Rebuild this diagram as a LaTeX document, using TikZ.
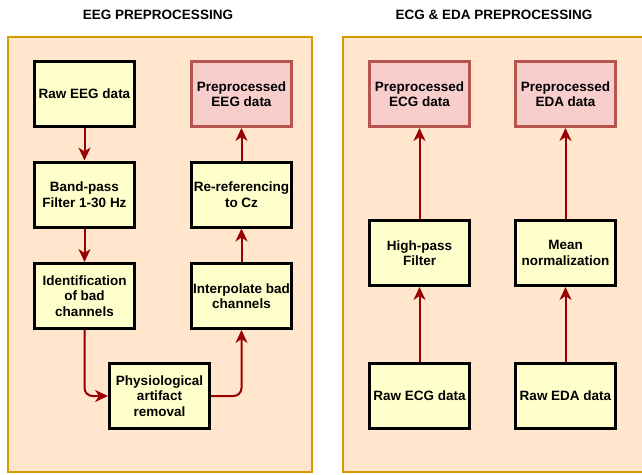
\documentclass[tikz,border=0pt]{standalone}
\usepackage{fontspec}
\setmainfont{Liberation Sans}
\usetikzlibrary{arrows.meta}
\definecolor{panelfill}{HTML}{FFE6CC}
\definecolor{paneldraw}{HTML}{D79B00}
\definecolor{yfill}{HTML}{FFFFCC}
\definecolor{pfill}{HTML}{F8CECC}
\definecolor{pdraw}{HTML}{B85450}
\definecolor{arrred}{HTML}{990000}
\begin{document}
\begin{tikzpicture}[x=1pt,y=-1pt,
  panel/.style={draw=paneldraw, fill=panelfill, line width=2.5pt},
  title/.style={font=\bfseries\fontsize{13.5}{15.5}\selectfont},
  stepbox/.style={draw=black, fill=yfill, line width=3pt, minimum width=100pt, minimum height=65pt, inner sep=1pt, align=center, font=\bfseries\fontsize{13.5}{15.5}\selectfont},
  outbox/.style={stepbox, draw=pdraw, fill=pfill},
  arr/.style={draw=arrred, line width=2pt, -{Stealth[length=13pt,width=12pt,inset=4pt]}}
]
\clip (0,0) rectangle (642,474);
\fill[white] (0,0) rectangle (642,474);
\draw[panel] (8,37) rectangle (312,472);
\draw[panel] (343,37) rectangle (660,472);
\node[title] (t1) at (158,15) {EEG PREPROCESSING};
\node[title] (t2) at (494,15) {ECG \& EDA PREPROCESSING};

\node[stepbox] (raw) at (84.5,94) {Raw EEG data};
\node[outbox] (pre) at (241.5,94) {Preprocessed\\EEG data};
\node[stepbox] (band) at (84.5,194.5) {Band-pass\\Filter 1-30 Hz};
\node[stepbox] (reref) at (241.5,194.5) {Re-referencing\\to Cz};
\node[stepbox] (ident) at (84.5,296) {Identification\\of bad\\channels};
\node[stepbox] (interp) at (241.5,296) {Interpolate bad\\channels};
\node[stepbox] (phys) at (159.5,396) {Physiological\\artifact\\removal};

\node[outbox] (preecg) at (419.5,94) {Preprocessed\\ECG data};
\node[outbox] (preeda) at (565.5,94) {Preprocessed\\EDA data};
\node[stepbox] (high) at (419.5,253) {High-pass\\Filter};
\node[stepbox] (mean) at (565.5,253) {Mean\\normalization};
\node[stepbox] (rawecg) at (419.5,396) {Raw ECG data};
\node[stepbox] (raweda) at (565.5,396) {Raw EDA data};

\draw[arr] (raw) -- (band);
\draw[arr] (band) -- (ident);
\draw[arr, rounded corners=8pt] (ident.south) |- (phys.west);
\draw[arr, rounded corners=8pt] (phys.east) -| (interp.south);
\draw[arr] (interp) -- (reref);
\draw[arr] (reref) -- (pre);
\draw[arr] (rawecg) -- (high);
\draw[arr] (high) -- (preecg);
\draw[arr] (raweda) -- (mean);
\draw[arr] (mean) -- (preeda);
\end{tikzpicture}
\end{document}
